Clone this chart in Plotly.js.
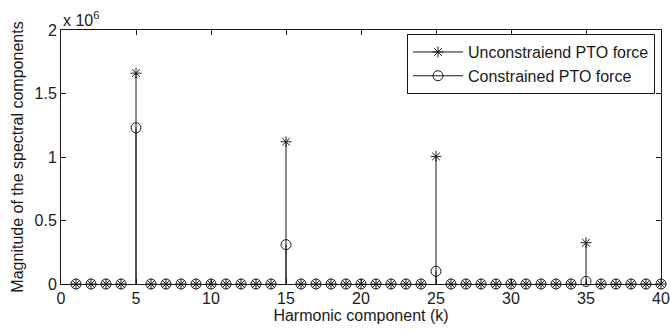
<!DOCTYPE html>
<html>
<head>
<meta charset="utf-8">
<script src="https://cdn.plot.ly/plotly-3.0.1.min.js"></script>
<style>html,body{margin:0;padding:0;background:#fff;}#chart{width:670px;height:333px;}</style>
</head>
<body>
<div id="chart"></div>
<script>
// Harmonic components k = 1..40
var harmonics = [1,2,3,4,5,6,7,8,9,10,11,12,13,14,15,16,17,18,19,20,21,22,23,24,25,26,27,28,29,30,31,32,33,34,35,36,37,38,39,40];
// Magnitudes (non-zero only at k = 5, 15, 25, 35)
var unconstrained = [0,0,0,0,1660000,0,0,0,0,0,0,0,0,0,1120000,0,0,0,0,0,0,0,0,0,1005000,0,0,0,0,0,0,0,0,0,325000,0,0,0,0,0];
var constrained   = [0,0,0,0,1230000,0,0,0,0,0,0,0,0,0,310000,0,0,0,0,0,0,0,0,0,100000,0,0,0,0,0,0,0,0,0,20000,0,0,0,0,0];
var seriesNames = ['Unconstraiend PTO force', 'Constrained PTO force'];
var yTickVals = [0, 500000, 1000000, 1500000, 2000000];
var yTickText = ['0', '0.5', '1', '1.5', '2'];
var xTitle = 'Harmonic component (k)';
var yTitle = 'Magnitude of the spectral components';
var exponentLabel = 'x 10<sup>6</sup>';

var INK = '#1a1a1a';
var FONT = 'Liberation Sans, Arial, Helvetica, sans-serif';
var FS = 16;

function stemTrace(xs, ys, name, symbol, size) {
  var sx = [], sy = [], cols = [];
  for (var i = 0; i < xs.length; i++) {
    sx.push(xs[i], xs[i], null);
    sy.push(ys[i], 0, null);
    cols.push(INK, 'rgba(0,0,0,0)', 'rgba(0,0,0,0)');
  }
  return {
    type: 'scatter', mode: 'lines+markers', name: name,
    x: sx, y: sy, connectgaps: false, cliponaxis: false,
    line: {color: INK, width: 1},
    marker: {symbol: symbol, size: size, color: cols, line: {width: 1}}
  };
}

var data = [
  stemTrace(harmonics, unconstrained, seriesNames[0], 'asterisk-open', 9),
  stemTrace(harmonics, constrained, seriesNames[1], 'circle-open', 10)
];

var layout = {
  width: 670, height: 333,
  margin: {l: 61, r: 9, t: 30, b: 49, pad: 0},
  paper_bgcolor: '#fff', plot_bgcolor: '#fff',
  font: {family: FONT, size: FS, color: INK},
  showlegend: true,
  legend: {
    x: 0.99, y: 0.984, xanchor: 'right', yanchor: 'top',
    bgcolor: '#fff', bordercolor: INK, borderwidth: 1,
    font: {family: FONT, size: FS, color: INK},
    tracegroupgap: 0, itemwidth: 50
  },
  xaxis: {
    range: [0, 40], tickmode: 'linear', tick0: 0, dtick: 5,
    ticks: 'inside', ticklen: 5, tickcolor: INK, tickwidth: 1,
    showline: true, linecolor: INK, linewidth: 1, mirror: 'ticks',
    showgrid: false, zeroline: false,
    tickfont: {family: FONT, size: FS, color: INK},
    title: {text: xTitle, font: {family: FONT, size: FS, color: INK}, standoff: 3}
  },
  yaxis: {
    range: [0, 2000000], tickmode: 'array', tickvals: yTickVals, ticktext: yTickText,
    ticks: 'inside', ticklen: 5, tickcolor: INK, tickwidth: 1,
    showline: true, linecolor: INK, linewidth: 1, mirror: 'ticks',
    showgrid: false, zeroline: false,
    tickfont: {family: FONT, size: FS, color: INK},
    title: {text: yTitle, font: {family: FONT, size: FS, color: INK}, standoff: 6}
  },
  annotations: [{
    text: exponentLabel, xref: 'paper', yref: 'paper', x: 0, y: 1,
    xanchor: 'left', yanchor: 'bottom', showarrow: false, yshift: -1,
    font: {family: FONT, size: FS, color: INK}
  }]
};

Plotly.newPlot('chart', data, layout, {displayModeBar: false, staticPlot: true});
</script>
</body>
</html>
